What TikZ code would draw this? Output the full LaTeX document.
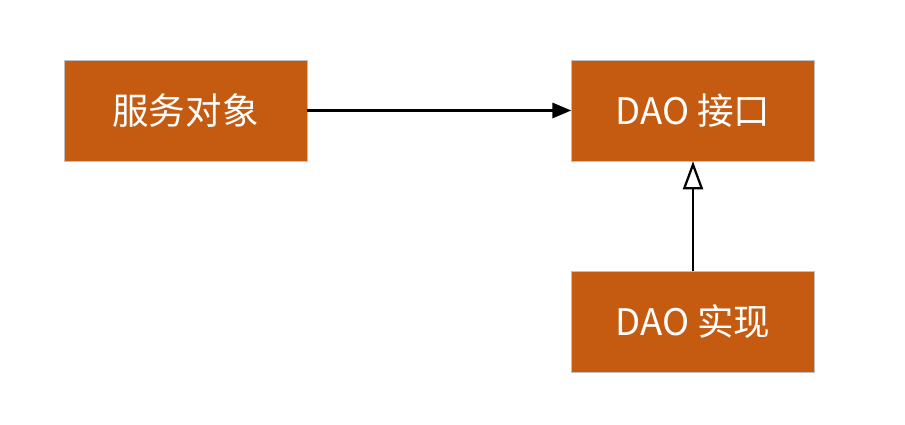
\documentclass[tikz,border=0pt]{standalone}
\usepackage{fontspec}
\setmainfont{Noto Sans CJK SC}
\usetikzlibrary{arrows.meta}
\definecolor{boxorange}{HTML}{C55A11}
\tikzset{
  box/.style={draw=black!25,line width=.4pt,fill=boxorange,text=white,minimum width=6.075cm,minimum height=2.525cm,inner sep=0pt,font=\fontsize{26}{31}\selectfont},
  link/.style={line width=1.6pt}
}
\begin{document}
\begin{tikzpicture}
\useasboundingbox (0,0) rectangle (22.625,10.625);
\node[box](svc)at(4.6375,7.8625){服务对象};
\node[box](dao)at(17.325,7.8625){DAO 接口};
\node[box](impl)at(17.325,2.575){DAO 实现};
\draw[link,-{Triangle[length=.47cm,width=.38cm]}](svc)--(dao);
\draw[link,-{Triangle[open,length=.7cm,width=.5cm]}](impl)--(dao);
\end{tikzpicture}
\end{document}
